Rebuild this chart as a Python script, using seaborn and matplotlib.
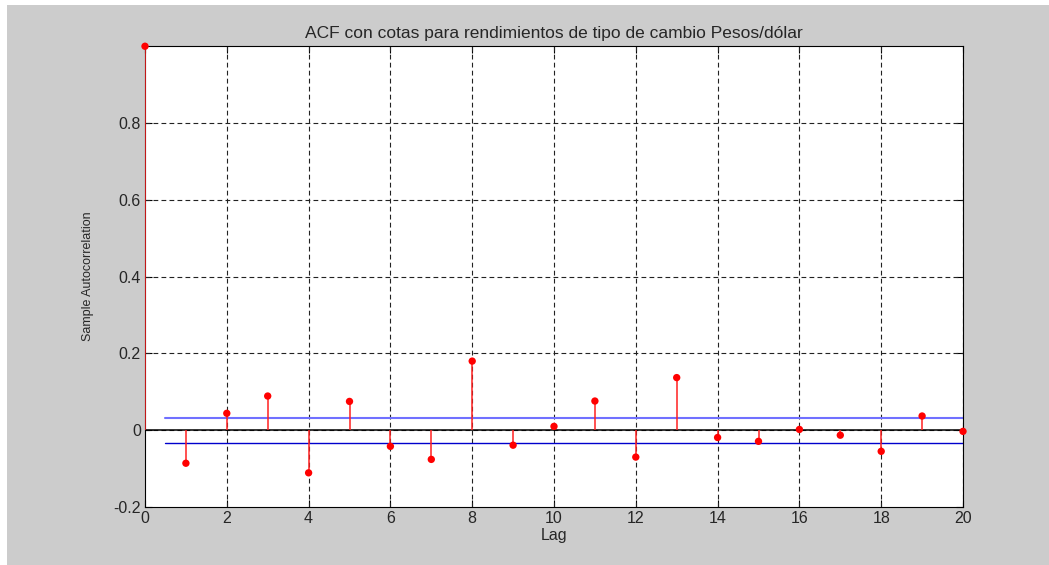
import numpy as np
import pandas as pd
import matplotlib
matplotlib.use("Agg")
import matplotlib.pyplot as plt
from matplotlib.patches import Rectangle
import seaborn as sns

# Sample autocorrelations of the peso/dollar exchange-rate returns
lags = list(range(21))
acf = [1.0, -0.086, 0.044, 0.089, -0.111, 0.075, -0.042, -0.076, 0.180, -0.039,
       0.010, 0.076, -0.070, 0.137, -0.019, -0.029, 0.002, -0.013, -0.055, 0.037,
       -0.003]
upper_bound = 0.033
lower_bound = -0.033
bound_start = 0.5
yticks = [-0.2, 0.0, 0.2, 0.4, 0.6, 0.8]
ytick_labels = ["-0.2", "0", "0.2", "0.4", "0.6", "0.8"]
xticks = list(range(0, 21, 2))

sns.set_style("white")
plt.rcParams["font.family"] = ["Liberation Sans", "DejaVu Sans"]

df = pd.DataFrame({"Lag": lags, "ACF": acf})

fig = plt.figure(figsize=(10.49, 5.65), dpi=100, facecolor="white")
fig.patches.append(Rectangle((7 / 1049, 0), 1, 1 - 5 / 565, transform=fig.transFigure,
                             facecolor="#cccccc", edgecolor="none", zorder=-10))
ax = fig.add_axes([145 / 1049, 58 / 565, 818 / 1049, 460.75 / 565])
ax.set_facecolor("white")

# dashed grid
dash = (0, (4.3, 2.9))
for x in xticks[1:]:
    ax.axvline(x, color="#222222", lw=0.8, ls=dash, zorder=1)
for y in yticks[1:]:
    ax.axhline(y, color="#222222", lw=0.8, ls=dash, zorder=1)

# stems and markers
ax.vlines(df["Lag"], 0, df["ACF"], color="#ff2020", lw=1.1, zorder=3)
sns.scatterplot(data=df, x="Lag", y="ACF", ax=ax, color="red", s=28,
                edgecolor="none", zorder=4, legend=False, clip_on=False)

# zero line and confidence bounds
ax.plot([0, 20], [0, 0], color="black", lw=1.1, zorder=2)
ax.plot([bound_start, 20], [upper_bound, upper_bound], color="#7070ff", lw=1.5, zorder=2)
ax.plot([bound_start, 20], [lower_bound, lower_bound], color="#0000cc", lw=1.0, zorder=2)

ax.set_xlim(0, 20)
ax.set_ylim(-0.2, 1.0)
ax.set_xticks(xticks)
ax.set_xticklabels([str(x) for x in xticks], fontsize=11.5)
ax.set_yticks(yticks)
ax.set_yticklabels(ytick_labels, fontsize=11.5)
ax.tick_params(direction="in", length=5, width=0.8, color="black",
               top=True, right=True, bottom=True, left=True, pad=3)
for s in ax.spines.values():
    s.set_visible(True)
    s.set_color("black")
    s.set_linewidth(0.8)

ax.set_title("ACF con cotas para rendimientos de tipo de cambio Pesos/dólar",
             fontsize=12.5, pad=6)
ax.set_xlabel("Lag", fontsize=11.5, labelpad=1)
ax.set_ylabel("Sample Autocorrelation", fontsize=9, labelpad=14)

fig.savefig("out.png", dpi=100, facecolor=fig.get_facecolor())
